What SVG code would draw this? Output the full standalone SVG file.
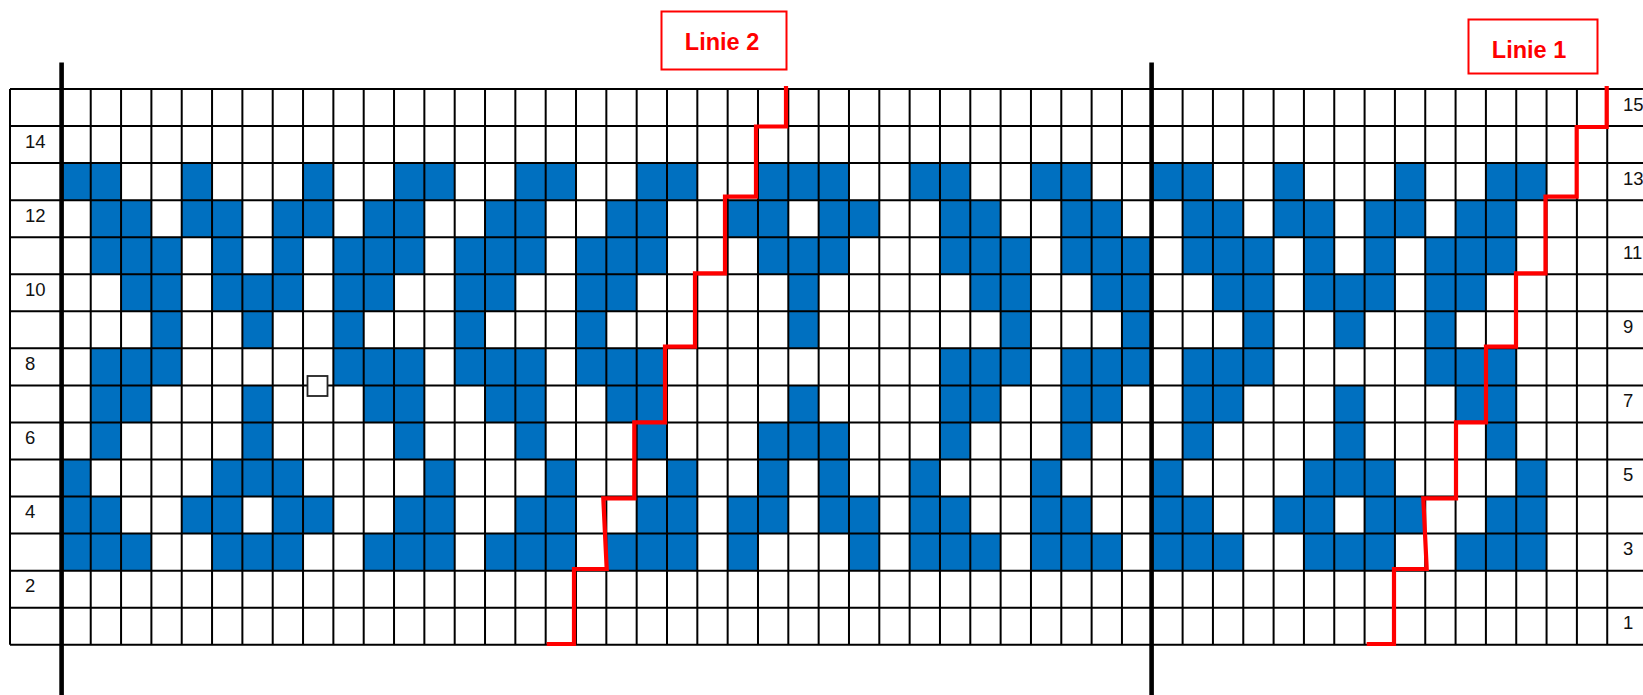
<svg xmlns="http://www.w3.org/2000/svg" width="1643" height="695" viewBox="0 0 1643 695">
<style>
.num{font-family:"Liberation Sans",Arial,sans-serif;font-size:18.5px;fill:#111}
.lab{font-family:"Liberation Sans",Arial,sans-serif;font-size:23.5px;font-weight:bold;fill:#FF0000;text-anchor:middle}
.box{fill:#fff;stroke:#FF0000;stroke-width:2}
.red{fill:none;stroke:#FF0000;stroke-width:4.2;stroke-linejoin:miter;stroke-linecap:butt}
</style>
<rect width="1643" height="695" fill="#fff"/>
<g id="cells" transform="translate(60.4 89) scale(30.33 37.05)" fill="#0070C0">
<rect x="0" y="2" width="2" height="1"/><rect x="4" y="2" width="1" height="1"/><rect x="8" y="2" width="1" height="1"/><rect x="11" y="2" width="2" height="1"/><rect x="15" y="2" width="2" height="1"/><rect x="19" y="2" width="2" height="1"/><rect x="23" y="2" width="3" height="1"/><rect x="28" y="2" width="2" height="1"/><rect x="32" y="2" width="2" height="1"/><rect x="36" y="2" width="2" height="1"/><rect x="40" y="2" width="1" height="1"/><rect x="44" y="2" width="1" height="1"/><rect x="47" y="2" width="2" height="1"/>
<rect x="1" y="3" width="2" height="1"/><rect x="4" y="3" width="2" height="1"/><rect x="7" y="3" width="2" height="1"/><rect x="10" y="3" width="2" height="1"/><rect x="14" y="3" width="2" height="1"/><rect x="18" y="3" width="2" height="1"/><rect x="22" y="3" width="2" height="1"/><rect x="25" y="3" width="2" height="1"/><rect x="29" y="3" width="2" height="1"/><rect x="33" y="3" width="2" height="1"/><rect x="37" y="3" width="2" height="1"/><rect x="40" y="3" width="2" height="1"/><rect x="43" y="3" width="2" height="1"/><rect x="46" y="3" width="2" height="1"/>
<rect x="1" y="4" width="3" height="1"/><rect x="5" y="4" width="1" height="1"/><rect x="7" y="4" width="1" height="1"/><rect x="9" y="4" width="3" height="1"/><rect x="13" y="4" width="3" height="1"/><rect x="17" y="4" width="3" height="1"/><rect x="23" y="4" width="3" height="1"/><rect x="29" y="4" width="3" height="1"/><rect x="33" y="4" width="3" height="1"/><rect x="37" y="4" width="3" height="1"/><rect x="41" y="4" width="1" height="1"/><rect x="43" y="4" width="1" height="1"/><rect x="45" y="4" width="3" height="1"/>
<rect x="2" y="5" width="2" height="1"/><rect x="5" y="5" width="3" height="1"/><rect x="9" y="5" width="2" height="1"/><rect x="13" y="5" width="2" height="1"/><rect x="17" y="5" width="2" height="1"/><rect x="24" y="5" width="1" height="1"/><rect x="30" y="5" width="2" height="1"/><rect x="34" y="5" width="2" height="1"/><rect x="38" y="5" width="2" height="1"/><rect x="41" y="5" width="3" height="1"/><rect x="45" y="5" width="2" height="1"/>
<rect x="3" y="6" width="1" height="1"/><rect x="6" y="6" width="1" height="1"/><rect x="9" y="6" width="1" height="1"/><rect x="13" y="6" width="1" height="1"/><rect x="17" y="6" width="1" height="1"/><rect x="24" y="6" width="1" height="1"/><rect x="31" y="6" width="1" height="1"/><rect x="35" y="6" width="1" height="1"/><rect x="39" y="6" width="1" height="1"/><rect x="42" y="6" width="1" height="1"/><rect x="45" y="6" width="1" height="1"/>
<rect x="1" y="7" width="3" height="1"/><rect x="9" y="7" width="3" height="1"/><rect x="13" y="7" width="3" height="1"/><rect x="17" y="7" width="3" height="1"/><rect x="29" y="7" width="3" height="1"/><rect x="33" y="7" width="3" height="1"/><rect x="37" y="7" width="3" height="1"/><rect x="45" y="7" width="3" height="1"/>
<rect x="1" y="8" width="2" height="1"/><rect x="6" y="8" width="1" height="1"/><rect x="10" y="8" width="2" height="1"/><rect x="14" y="8" width="2" height="1"/><rect x="18" y="8" width="2" height="1"/><rect x="24" y="8" width="1" height="1"/><rect x="29" y="8" width="2" height="1"/><rect x="33" y="8" width="2" height="1"/><rect x="37" y="8" width="2" height="1"/><rect x="42" y="8" width="1" height="1"/><rect x="46" y="8" width="2" height="1"/>
<rect x="1" y="9" width="1" height="1"/><rect x="6" y="9" width="1" height="1"/><rect x="11" y="9" width="1" height="1"/><rect x="15" y="9" width="1" height="1"/><rect x="19" y="9" width="1" height="1"/><rect x="23" y="9" width="3" height="1"/><rect x="29" y="9" width="1" height="1"/><rect x="33" y="9" width="1" height="1"/><rect x="37" y="9" width="1" height="1"/><rect x="42" y="9" width="1" height="1"/><rect x="47" y="9" width="1" height="1"/>
<rect x="0" y="10" width="1" height="1"/><rect x="5" y="10" width="3" height="1"/><rect x="12" y="10" width="1" height="1"/><rect x="16" y="10" width="1" height="1"/><rect x="20" y="10" width="1" height="1"/><rect x="23" y="10" width="1" height="1"/><rect x="25" y="10" width="1" height="1"/><rect x="28" y="10" width="1" height="1"/><rect x="32" y="10" width="1" height="1"/><rect x="36" y="10" width="1" height="1"/><rect x="41" y="10" width="3" height="1"/><rect x="48" y="10" width="1" height="1"/>
<rect x="0" y="11" width="2" height="1"/><rect x="4" y="11" width="2" height="1"/><rect x="7" y="11" width="2" height="1"/><rect x="11" y="11" width="2" height="1"/><rect x="15" y="11" width="2" height="1"/><rect x="19" y="11" width="2" height="1"/><rect x="22" y="11" width="2" height="1"/><rect x="25" y="11" width="2" height="1"/><rect x="28" y="11" width="2" height="1"/><rect x="32" y="11" width="2" height="1"/><rect x="36" y="11" width="2" height="1"/><rect x="40" y="11" width="2" height="1"/><rect x="43" y="11" width="2" height="1"/><rect x="47" y="11" width="2" height="1"/>
<rect x="0" y="12" width="3" height="1"/><rect x="5" y="12" width="3" height="1"/><rect x="10" y="12" width="3" height="1"/><rect x="14" y="12" width="3" height="1"/><rect x="18" y="12" width="3" height="1"/><rect x="22" y="12" width="1" height="1"/><rect x="26" y="12" width="1" height="1"/><rect x="28" y="12" width="3" height="1"/><rect x="32" y="12" width="3" height="1"/><rect x="36" y="12" width="3" height="1"/><rect x="41" y="12" width="3" height="1"/><rect x="46" y="12" width="3" height="1"/>
</g>
<g id="grid" fill="none" stroke="#000" stroke-width="2">
<path d="M10 89H1643M10 126.05H1643M10 163.1H1643M10 200.15H1643M10 237.2H1643M10 274.25H1643M10 311.3H1643M10 348.35H1643M10 385.4H1643M10 422.45H1643M10 459.5H1643M10 496.55H1643M10 533.6H1643M10 570.65H1643M10 607.7H1643M10 644.75H1643"/>
<path d="M10 89V644.75M90.73 89V644.75M121.06 89V644.75M151.39 89V644.75M181.72 89V644.75M212.05 89V644.75M242.38 89V644.75M272.71 89V644.75M303.04 89V644.75M333.37 89V644.75M363.7 89V644.75M394.03 89V644.75M424.36 89V644.75M454.69 89V644.75M485.02 89V644.75M515.35 89V644.75M545.68 89V644.75M576.01 89V644.75M606.34 89V644.75M636.67 89V644.75M667 89V644.75M697.33 89V644.75M727.66 89V644.75M757.99 89V644.75M788.32 89V644.75M818.65 89V644.75M848.98 89V644.75M879.31 89V644.75M909.64 89V644.75M939.97 89V644.75M970.3 89V644.75M1000.63 89V644.75M1030.96 89V644.75M1061.29 89V644.75M1091.62 89V644.75M1121.95 89V644.75M1182.61 89V644.75M1212.94 89V644.75M1243.27 89V644.75M1273.6 89V644.75M1303.93 89V644.75M1334.26 89V644.75M1364.59 89V644.75M1394.92 89V644.75M1425.25 89V644.75M1455.58 89V644.75M1485.91 89V644.75M1516.24 89V644.75M1546.57 89V644.75M1576.9 89V644.75M1607.23 89V644.75"/>
<path d="M61.6 62.5V695M1151.6 62.5V695" stroke-width="4.6"/>
</g>
<rect id="marker-square" x="307.5" y="376" width="20" height="20" fill="#fff" stroke="#222" stroke-width="1.8"/>
<g id="row-numbers">
<text class="num" x="25" y="147.5">14</text>
<text class="num" x="25" y="221.5">12</text>
<text class="num" x="25" y="295.5">10</text>
<text class="num" x="25" y="369.5">8</text>
<text class="num" x="25" y="443.5">6</text>
<text class="num" x="25" y="517.5">4</text>
<text class="num" x="25" y="591.5">2</text>
<text class="num" x="1623" y="110.5">15</text>
<text class="num" x="1623" y="184.5">13</text>
<text class="num" x="1623" y="258.5">11</text>
<text class="num" x="1623" y="332.5">9</text>
<text class="num" x="1623" y="406.5">7</text>
<text class="num" x="1623" y="480.5">5</text>
<text class="num" x="1623" y="554.5">3</text>
<text class="num" x="1623" y="628.5">1</text>
</g>
<g id="connectors">
<path class="red" d="M546.7 644 H574 V569 H606.7 L603.3 498.3 H634.3 V422.3 H665 V346.7 H695 V273.3 H725 V196.7 H756 V126.5 H786 V86"/>
<path class="red" d="M1366.7 644 H1394 V569 H1426.7 L1423.3 498.3 H1456 V422.3 H1486 V346.7 H1516 V273.3 H1545.5 V196.7 H1576.7 V127 H1606.7 V86"/>
</g>
<g id="linie2">
<rect class="box" x="661.5" y="11.5" width="125" height="58"/>
<text class="lab" x="722" y="50">Linie 2</text>
</g>
<g id="linie1">
<rect class="box" x="1468.5" y="19.5" width="129" height="54"/>
<text class="lab" x="1529" y="57.5">Linie 1</text>
</g>
</svg>
